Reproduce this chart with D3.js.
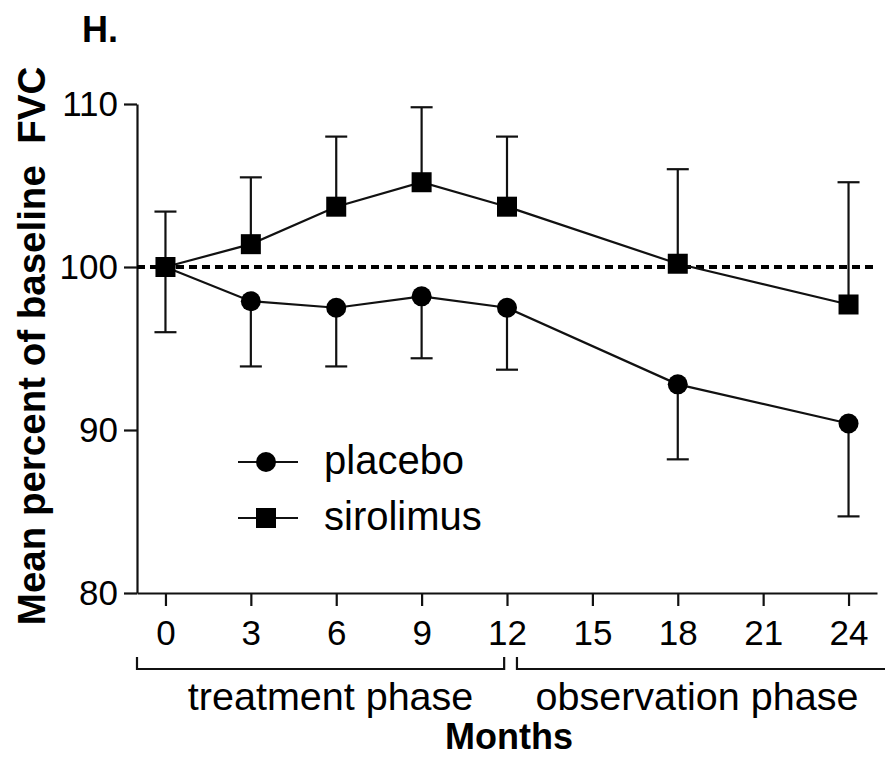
<!DOCTYPE html>
<html>
<head>
<meta charset="utf-8">
<script src="https://cdn.jsdelivr.net/npm/d3@7"></script>
<style>
  html, body { margin: 0; padding: 0; background: #fff; }
  svg { display: block; font-family: "Liberation Sans", Arial, Helvetica, sans-serif; }
</style>
</head>
<body>
<svg id="chart" width="885" height="760"></svg>
<script>
// ---- data ----
const months = [0, 3, 6, 9, 12, 18, 24];
const sirolimusMean = [100.0, 101.4, 103.7, 105.2, 103.7, 100.2, 97.7];
const sirolimusErrUp = [3.4, 4.1, 4.3, 4.6, 4.3, 5.8, 7.5];
const placeboMean = [100.0, 97.9, 97.5, 98.2, 97.5, 92.8, 90.4];
const placeboErrDown = [4.0, 4.0, 3.6, 3.8, 3.8, 4.6, 5.7];
const xTicks = [0, 3, 6, 9, 12, 15, 18, 21, 24];
const yTicks = [80, 90, 100, 110];
const baselineValue = 100;
const phaseLabels = ["treatment phase", "observation phase"];
const phaseStarts = [-1, 12.35];
const phaseEnds = [11.9, 26];
const legendLabels = ["placebo", "sirolimus"];

// ---- layout ----
const svg = d3.select("#chart");
const x = d3.scaleLinear().domain([-1, 25]).range([137, 877]);
const y = d3.scaleLinear().domain([80, 110]).range([593, 104]);

// title letter
svg.append("text").attr("x", 82).attr("y", 42)
  .attr("font-size", 36).attr("font-weight", "bold").text("H.");

// y axis title
svg.append("text")
  .attr("transform", "translate(45,346) rotate(-90)")
  .attr("text-anchor", "middle")
  .attr("font-size", 38.5).attr("font-weight", "bold")
  .style("white-space", "pre")
  .text("Mean percent of baseline  FVC");

// axes
const yAxis = svg.append("g").attr("transform", `translate(${x(-1)},0)`)
  .call(d3.axisLeft(y).tickValues(yTicks).tickSize(13).tickSizeOuter(0).tickPadding(6).tickFormat(d3.format("d")));
const xAxis = svg.append("g").attr("transform", `translate(0,${y(80)})`)
  .call(d3.axisBottom(x).tickValues(xTicks).tickSize(13).tickSizeOuter(0).tickPadding(14).tickFormat(d3.format("d")));
[yAxis, xAxis].forEach(g => {
  g.selectAll("path, line").attr("stroke", "#111").attr("stroke-width", 2.2);
  g.selectAll("text").attr("font-size", 35).attr("fill", "#000").attr("font-family", null);
});

// baseline dashed line
svg.append("line")
  .attr("x1", x(-1)).attr("x2", x(25))
  .attr("y1", y(baselineValue)).attr("y2", y(baselineValue))
  .attr("stroke", "#000").attr("stroke-width", 4).attr("stroke-dasharray", "8,5");

const capHalf = 11;
const errG = svg.append("g").attr("stroke", "#111").attr("stroke-width", 2.2);
months.forEach((m, i) => {
  // sirolimus up
  const top = sirolimusMean[i] + sirolimusErrUp[i];
  errG.append("line").attr("x1", x(m)).attr("x2", x(m)).attr("y1", y(sirolimusMean[i])).attr("y2", y(top));
  errG.append("line").attr("x1", x(m) - capHalf).attr("x2", x(m) + capHalf).attr("y1", y(top)).attr("y2", y(top));
  // placebo down
  const bot = placeboMean[i] - placeboErrDown[i];
  errG.append("line").attr("x1", x(m)).attr("x2", x(m)).attr("y1", y(placeboMean[i])).attr("y2", y(bot));
  errG.append("line").attr("x1", x(m) - capHalf).attr("x2", x(m) + capHalf).attr("y1", y(bot)).attr("y2", y(bot));
});

const line = d3.line().x(d => x(d[0])).y(d => y(d[1]));
svg.append("path").datum(months.map((m, i) => [m, placeboMean[i]]))
  .attr("d", line).attr("fill", "none").attr("stroke", "#111").attr("stroke-width", 2.2);
svg.append("path").datum(months.map((m, i) => [m, sirolimusMean[i]]))
  .attr("d", line).attr("fill", "none").attr("stroke", "#111").attr("stroke-width", 2.2);

svg.append("g").selectAll("circle").data(months).join("circle")
  .attr("cx", d => x(d)).attr("cy", (d, i) => y(placeboMean[i])).attr("r", 10).attr("fill", "#000");
svg.append("g").selectAll("rect").data(months).join("rect")
  .attr("x", d => x(d) - 10).attr("y", (d, i) => y(sirolimusMean[i]) - 10)
  .attr("width", 20).attr("height", 20).attr("fill", "#000");

// legend
const legY = [462, 518];
legendLabels.forEach((lab, i) => {
  const g = svg.append("g");
  g.append("line").attr("x1", 238).attr("x2", 298).attr("y1", legY[i]).attr("y2", legY[i])
    .attr("stroke", "#111").attr("stroke-width", 2.2);
  if (i === 0) g.append("circle").attr("cx", 266).attr("cy", legY[i]).attr("r", 10).attr("fill", "#000");
  else g.append("rect").attr("x", 256).attr("y", legY[i] - 10).attr("width", 20).attr("height", 20).attr("fill", "#000");
  g.append("text").attr("x", 324).attr("y", legY[i] + 12).attr("font-size", 40).text(lab);
});

// phase brackets
const brTop = 657, brBot = 669;
phaseLabels.forEach((lab, i) => {
  const x0 = x(phaseStarts[i]), x1 = x(phaseEnds[i]);
  svg.append("path")
    .attr("d", `M${x0},${brTop}V${brBot}H${x1}V${brTop}`)
    .attr("fill", "none").attr("stroke", "#111").attr("stroke-width", 2.2);
  const cx = i === 0 ? (x0 + x1) / 2 + 10 : (x0 + x(25)) / 2;
  svg.append("text").attr("x", cx).attr("y", 710).attr("text-anchor", "middle")
    .attr("font-size", 39.5).text(lab);
});

// x axis title
svg.append("text").attr("x", 509).attr("y", 749).attr("text-anchor", "middle")
  .attr("font-size", 36).attr("font-weight", "bold").text("Months");
</script>
</body>
</html>
